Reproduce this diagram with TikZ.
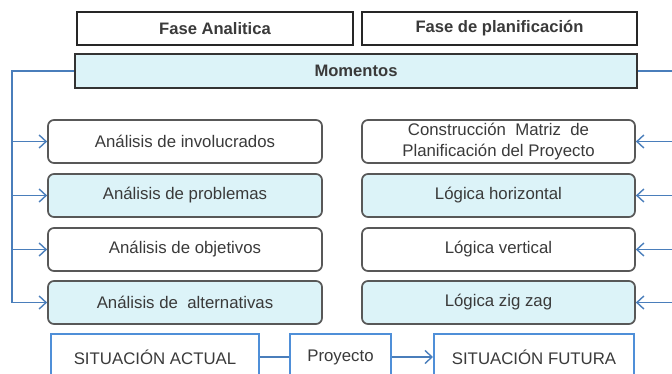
\documentclass[tikz,border=0pt]{standalone}
\usepackage{fontspec}
\setmainfont{Liberation Sans}
\usetikzlibrary{arrows.meta}
\definecolor{txt}{HTML}{3A3A3A}
\definecolor{bord}{HTML}{585858}
\definecolor{cyanf}{HTML}{DCF3F8}
\definecolor{blueln}{HTML}{4A7EBB}
\definecolor{bluebox}{HTML}{4F8FD8}
\begin{document}
\begin{tikzpicture}[x=1pt,y=-1pt,
  font=\fontsize{16.8}{20}\selectfont, text=txt,
  phase/.style={draw=black!85, line width=2pt, fill=white, inner sep=0pt,
    minimum height=33pt, font=\fontsize{16.6}{20}\selectfont\bfseries},
  momento/.style={draw=black!80, line width=2.2pt, fill=cyanf, inner sep=0pt,
    minimum height=34pt, minimum width=562pt, font=\fontsize{16.6}{20}\selectfont\bfseries},
  stagebox/.style={draw=bord, line width=1.7pt, rounded corners=6pt, inner sep=0pt,
    minimum height=43pt, align=center},
  plain/.style={stagebox, fill=white},
  tinted/.style={stagebox, fill=cyanf},
  sitbox/.style={draw=bluebox, line width=2pt, fill=white, inner sep=0pt, minimum height=46pt},
  link/.style={draw=blueln, line width=1.3pt},
  arr/.style={link, -{Straight Barb[length=7pt,width=13pt,line width=1.4pt]}}
]
\useasboundingbox (0,0) rectangle (672,374);
\clip (0,0) rectangle (672,374);

\node[phase, minimum width=276pt] (fa) at (215,28.5) {Fase Analitica};
\node[phase, minimum width=275pt] (fp) at (499.5,28.5) {Fase de planificación};
\node[momento] (mom) at (356,71) {Momentos};

\node[plain,  minimum width=274pt] (l1) at (185,141.5) {Análisis de involucrados};
\node[tinted, minimum width=274pt] (l2) at (185,195.5) {Análisis de problemas};
\node[plain,  minimum width=274pt] (l3) at (185,249.5) {Análisis de objetivos};
\node[tinted, minimum width=274pt] (l4) at (185,302.5) {Análisis de\ \ alternativas};

\node[plain,  minimum width=273pt, font=\fontsize{16.8}{20.5}\selectfont] (r1) at (498.5,141.5) {Construcción\ \ Matriz\ \ de\\Planificación del Proyecto};
\node[tinted, minimum width=273pt] (r2) at (498.5,195.5) {Lógica horizontal};
\node[plain,  minimum width=273pt] (r3) at (498.5,249.5) {Lógica vertical};
\node[tinted, minimum width=273pt] (r4) at (498.5,302.5) {Lógica zig zag};

\node[sitbox, minimum width=208pt] (sa) at (155,357) {SITUACIÓN ACTUAL};
\node[sitbox, minimum width=101pt] (pr) at (340.5,357) {Proyecto};
\node[sitbox, minimum width=200pt] (sf) at (534,357) {SITUACIÓN FUTURA};

\coordinate (lv) at (12,71);
\coordinate (rv) at (673,71);

\draw[link] (mom.west) -- (lv) -- (lv |- l4.west);
\foreach \b in {l1,l2,l3,l4} \draw[arr] (lv |- \b.west) -- (\b.west);

\draw[link] (mom.east) -- (rv) -- (rv |- r4.east);
\foreach \b in {r1,r2,r3,r4} \draw[arr] (rv |- \b.east) -- (\b.east);

\draw[link] (sa.east) -- (pr.west);
\draw[arr] (pr.east) -- (sf.west);
\end{tikzpicture}
\end{document}
